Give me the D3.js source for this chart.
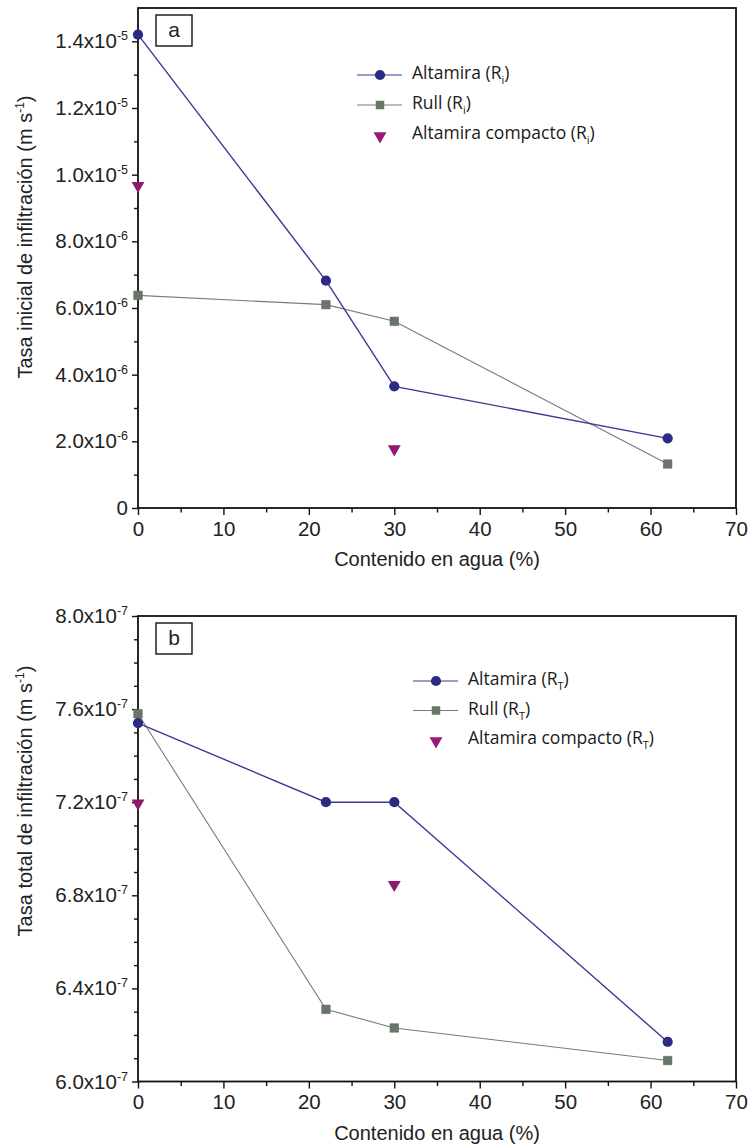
<!DOCTYPE html>
<html>
<head>
<meta charset="utf-8">
<script src="https://cdn.jsdelivr.net/npm/d3@7.9.0/dist/d3.min.js"></script>
<style>
  body { margin: 0; background: #fff; }
  svg { display: block; }
</style>
</head>
<body>
<svg id="fig" width="752" height="1146"></svg>
<script>
// values
const waterContent = [0, 22, 30, 62];
const compactWater = [0, 30];

// panel a: initial infiltration rate (m s-1)
const altamiraRi = [1.42e-5, 6.82e-6, 3.65e-6, 2.09e-6];
const rullRi = [6.38e-6, 6.10e-6, 5.60e-6, 1.32e-6];
const compactoRi = [9.7e-6, 1.8e-6];

// panel b: total infiltration rate (m s-1)
const altamiraRT = [7.54e-7, 7.20e-7, 7.20e-7, 6.17e-7];
const rullRT = [7.58e-7, 6.31e-7, 6.23e-7, 6.09e-7];
const compactoRT = [7.20e-7, 6.85e-7];

// axes
const xTicks = [0, 10, 20, 30, 40, 50, 60, 70];
const xMinorTicks = [5, 15, 25, 35, 45, 55, 65];
const yTicksA = [0, 2e-6, 4e-6, 6e-6, 8e-6, 1.0e-5, 1.2e-5, 1.4e-5];
const yTickLabelsA = ["0", "2.0x10^-6", "4.0x10^-6", "6.0x10^-6", "8.0x10^-6", "1.0x10^-5", "1.2x10^-5", "1.4x10^-5"];
const yMinorA = [1e-6, 3e-6, 5e-6, 7e-6, 9e-6, 1.1e-5, 1.3e-5];
const yTicksB = [6.0e-7, 6.4e-7, 6.8e-7, 7.2e-7, 7.6e-7, 8.0e-7];
const yTickLabelsB = ["6.0x10^-7", "6.4x10^-7", "6.8x10^-7", "7.2x10^-7", "7.6x10^-7", "8.0x10^-7"];
const yMinorB = [6.1e-7, 6.2e-7, 6.3e-7, 6.5e-7, 6.6e-7, 6.7e-7, 6.9e-7, 7.0e-7, 7.1e-7,
                 7.3e-7, 7.4e-7, 7.5e-7, 7.7e-7, 7.8e-7, 7.9e-7];

const seriesNames = ["Altamira", "Rull", "Altamira compacto"];

const svg = d3.select("#fig");
const tickFont = '"Liberation Sans", Arial, Helvetica, sans-serif';
const legendFont = '"Open Sans", "Noto Sans", sans-serif';

const colors = {
  altamira: "#2d2a86",
  altamiraLine: "#3c3a92",
  rull: "#667766",
  rullLine: "#7a7a7a",
  compacto: "#8e1a6e"
};

const panels = [
  {
    tag: "a", sub: "i", top: 8, bottom: 508, yDomain: [0, 1.5e-5],
    yTicks: yTicksA, yLabels: yTickLabelsA, yMinor: yMinorA,
    yTitle: "Tasa inicial de infiltración (m s", yTitleY: 237,
    altamira: altamiraRi, rull: rullRi, compacto: compactoRi,
    legendX: 380, legendY: 75, legendStep: 30
  },
  {
    tag: "b", sub: "T", top: 616, bottom: 1081.5, yDomain: [6.0e-7, 8.0e-7],
    yTicks: yTicksB, yLabels: yTickLabelsB, yMinor: yMinorB,
    yTitle: "Tasa total de infiltración (m s", yTitleY: 801,
    altamira: altamiraRT, rull: rullRT, compacto: compactoRT,
    legendX: 436, legendY: 681, legendStep: 29.5
  }
];

const left = 138, right = 736;

function supLabel(text, str, size) {
  const [m, e] = str.split("^");
  text.text(null);
  text.append("tspan").text(m);
  if (e) {
    text.append("tspan").attr("font-size", size).attr("dy", -8).text(e);
  }
}

function drawPanel(p) {
  const g = svg.append("g");
  const x = d3.scaleLinear().domain([0, 70]).range([left, right]);
  const y = d3.scaleLinear().domain(p.yDomain).range([p.bottom, p.top]);

  // x axis (major + minor)
  const xg = g.append("g").attr("transform", `translate(0,${p.bottom})`)
    .call(d3.axisBottom(x).tickValues(xTicks).tickSize(7).tickPadding(6).tickFormat(d3.format("d")));
  xg.select(".domain").remove();
  xg.selectAll(".tick text").attr("font-family", tickFont).attr("font-size", 20.5).attr("fill", "#222");
  xg.append("g").call(d3.axisBottom(x).tickValues(xMinorTicks).tickSize(4.5).tickFormat(""))
    .select(".domain").remove();
  xg.selectAll("line").attr("stroke", "#111").attr("stroke-width", 1.4);

  // y axis (major + minor)
  const yg = g.append("g").attr("transform", `translate(${left},0)`)
    .call(d3.axisLeft(y).tickValues(p.yTicks).tickSize(6).tickPadding(4)
      .tickFormat((d, i) => p.yLabels[i]));
  yg.select(".domain").remove();
  yg.selectAll(".tick text").attr("font-family", tickFont).attr("font-size", 20.5).attr("fill", "#222")
    .each(function (d, i) { supLabel(d3.select(this), p.yLabels[i], 12.5); });
  yg.append("g").call(d3.axisLeft(y).tickValues(p.yMinor).tickSize(4).tickFormat(""))
    .select(".domain").remove();
  yg.selectAll("line").attr("stroke", "#111").attr("stroke-width", 1.4);

  // frame
  g.append("rect")
    .attr("x", left).attr("y", p.top)
    .attr("width", right - left).attr("height", p.bottom - p.top)
    .attr("fill", "none").attr("stroke", "#111").attr("stroke-width", 1.8);

  // axis titles
  g.append("text")
    .attr("x", (left + right) / 2).attr("y", p.bottom + 58)
    .attr("text-anchor", "middle")
    .attr("font-family", tickFont).attr("font-size", 20).attr("fill", "#222")
    .text("Contenido en agua (%)");

  const yt = g.append("text")
    .attr("transform", `translate(32,${p.yTitleY}) rotate(-90)`)
    .attr("text-anchor", "middle")
    .attr("font-family", tickFont).attr("font-size", 20).attr("fill", "#222");
  yt.append("tspan").text(p.yTitle);
  yt.append("tspan").attr("font-size", 12).attr("dy", -8).text("-1");
  yt.append("tspan").attr("dy", 8).text(")");

  // panel tag box
  g.append("rect").attr("x", left + 18).attr("y", p.top + 7).attr("width", 36).attr("height", 31)
    .attr("fill", "#fff").attr("stroke", "#111").attr("stroke-width", 1.4);
  g.append("text").attr("x", left + 36).attr("y", p.top + 29).attr("text-anchor", "middle")
    .attr("font-family", tickFont).attr("font-size", 21).attr("fill", "#222").text(p.tag);

  // series lines
  const line = d3.line().x((d, i) => x(waterContent[i])).y(d => y(d));
  g.append("path").datum(p.rull).attr("d", line)
    .attr("fill", "none").attr("stroke", colors.rullLine).attr("stroke-width", 1.1);
  g.append("path").datum(p.altamira).attr("d", line)
    .attr("fill", "none").attr("stroke", colors.altamiraLine).attr("stroke-width", 1.4);

  // markers
  const sq = d3.symbol(d3.symbolSquare, 72);
  const circ = d3.symbol(d3.symbolCircle, 82);
  const tri = d3.symbol(d3.symbolTriangle, 72);

  g.selectAll(".rull").data(p.rull).join("path").attr("class", "rull")
    .attr("transform", (d, i) => `translate(${x(waterContent[i])},${y(d)})`)
    .attr("d", sq).attr("fill", colors.rull).attr("stroke", "#666").attr("stroke-width", 0.6);
  g.selectAll(".alt").data(p.altamira).join("path").attr("class", "alt")
    .attr("transform", (d, i) => `translate(${x(waterContent[i])},${y(d)})`)
    .attr("d", circ).attr("fill", colors.altamira);
  g.selectAll(".comp").data(p.compacto).join("path").attr("class", "comp")
    .attr("transform", (d, i) => `translate(${x(compactWater[i])},${y(d) + 1}) rotate(180)`)
    .attr("d", tri).attr("fill", colors.compacto);

  // legend
  const lg = g.append("g").attr("transform", `translate(${p.legendX},${p.legendY})`);
  const items = [
    { name: seriesNames[0], sym: circ, fill: colors.altamira, line: colors.altamiraLine, rot: 0 },
    { name: seriesNames[1], sym: sq, fill: colors.rull, line: colors.rullLine, rot: 0 },
    { name: seriesNames[2], sym: tri, fill: "#9a1678", line: null, rot: 180 }
  ];
  items.forEach((it, i) => {
    const row = lg.append("g").attr("transform", `translate(0,${i * p.legendStep})`);
    if (it.line) {
      row.append("line").attr("x1", -23).attr("x2", 22).attr("y1", 0).attr("y2", 0)
        .attr("stroke", it.line).attr("stroke-width", 1.1);
    }
    row.append("path").attr("d", it.sym).attr("fill", it.fill)
      .attr("transform", `translate(0,${it.rot ? 1 : 0}) rotate(${it.rot})`);
    const t = row.append("text").attr("x", 32).attr("y", 4)
      .attr("font-family", legendFont).attr("font-size", 17.5).attr("fill", "#1a1a1a");
    t.append("tspan").text(it.name + " (R");
    t.append("tspan").attr("font-size", 11).attr("dy", 5).text(p.sub);
    t.append("tspan").attr("dy", -5).text(")");
  });
}

panels.forEach(drawPanel);
</script>
</body>
</html>
